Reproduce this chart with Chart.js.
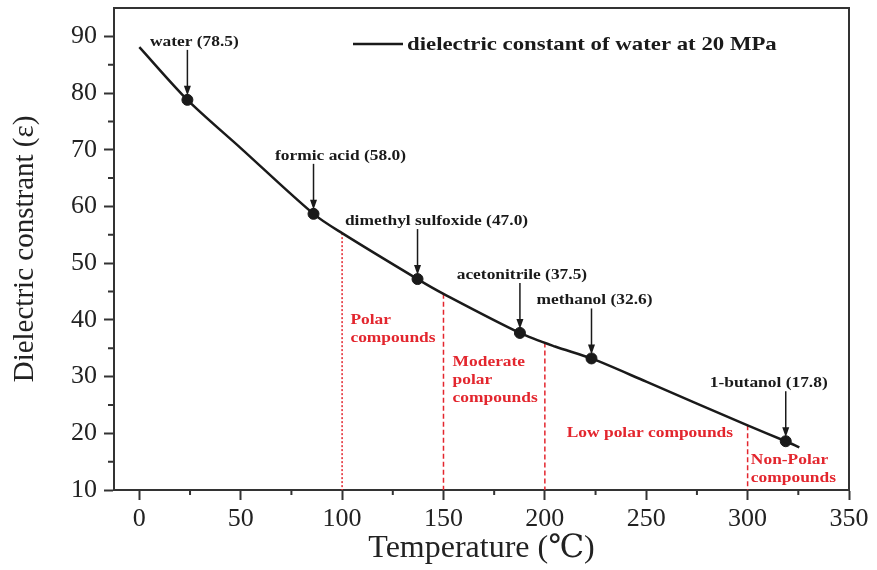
<!DOCTYPE html>
<html>
<head>
<meta charset="utf-8">
<script src="https://cdn.jsdelivr.net/npm/chart.js@4/dist/chart.umd.min.js"></script>
<style>
  html, body { margin: 0; padding: 0; background: #fff; }
  canvas { display: block; }
</style>
</head>
<body>
<canvas id="chart" width="877" height="570"></canvas>
<script>
// dielectric constant of water at 20 MPa
const curveTemp = [0, 23.7, 50, 85.9, 100, 137.2, 150, 187.7, 205, 223, 250, 300, 318.8, 325.5];
const curveEps = [88.1, 78.8, 70.3, 58.7, 55.3, 47.2, 44.6, 37.7, 35.3, 33.2, 29.1, 21.4, 18.6, 17.5];

// solvents marked on the curve
const compoundNames = ["water", "formic acid", "dimethyl sulfoxide", "acetonitrile", "methanol", "1-butanol"];
const compoundValues = [78.5, 58.0, 47.0, 37.5, 32.6, 17.8];
const compoundTemp = [23.7, 85.9, 137.2, 187.7, 223, 318.8];
const compoundEps = [78.8, 58.7, 47.2, 37.7, 33.2, 18.6];

// polarity zones (red dashed lines)
const boundaryTemp = [100, 150, 200, 300];
const boundaryTopEps = [55.3, 44.6, 36.0, 21.4];
const zoneLabels = [["Polar", "compounds"], ["Moderate", "polar", "compounds"], ["Low polar compounds"], ["Non-Polar", "compounds"]];

const xTicks = [0, 50, 100, 150, 200, 250, 300, 350];
const yTicks = [10, 20, 30, 40, 50, 60, 70, 80, 90];

// layout only (not data)
const labelShift = [7, 27, 19, 2, 3, -17];
const zoneAnchorTemp = [104.1, 154.5, 210.8, 301.6];
const zoneAnchorEps = [39.95, 32.6, 20.0, 15.2];

const RED = "#e3262e";
const INK = "#1a1a1a";
const SERIF = "'Liberation Serif', 'DejaVu Serif', serif";

function wideText(ctx, text, px, py, align) {
  ctx.save();
  ctx.translate(px, py);
  ctx.scale(1.2, 1);
  ctx.textAlign = align;
  ctx.fillText(text, 0, 0);
  ctx.restore();
}

function noPad(s) {
  s.paddingTop = 0;
  s.paddingBottom = 0;
  s.paddingLeft = 0;
  s.paddingRight = 0;
}

const overlay = {
  id: "overlay",
  afterDraw(chart) {
    const { ctx, chartArea: a, scales: { x, y } } = chart;
    ctx.save();

    // frame top + right, minor ticks
    ctx.strokeStyle = "#333";
    ctx.lineWidth = 2;
    ctx.beginPath();
    ctx.moveTo(a.left, a.top);
    ctx.lineTo(a.right, a.top);
    ctx.lineTo(a.right, a.bottom);
    for (let v = 15; v < 95; v += 10) {
      const py = y.getPixelForValue(v);
      ctx.moveTo(a.left - 6, py);
      ctx.lineTo(a.left, py);
    }
    for (let v = 25; v < 350; v += 50) {
      const px = x.getPixelForValue(v);
      ctx.moveTo(px, a.bottom);
      ctx.lineTo(px, a.bottom + 5);
    }
    ctx.stroke();

    // legend
    ctx.strokeStyle = INK;
    ctx.lineWidth = 2.5;
    ctx.beginPath();
    ctx.moveTo(a.left + 239, 44);
    ctx.lineTo(a.left + 289, 44);
    ctx.stroke();
    ctx.fillStyle = INK;
    ctx.textBaseline = "middle";
    ctx.font = "bold 19px " + SERIF;
    wideText(ctx, "dielectric constant of water at 20 MPa", a.left + 293, 45, "left");

    // compound labels with arrows
    ctx.font = "bold 14.5px " + SERIF;
    ctx.lineWidth = 1.5;
    compoundNames.forEach((name, i) => {
      const px = x.getPixelForValue(compoundTemp[i]);
      const py = y.getPixelForValue(compoundEps[i]);
      wideText(ctx, name + " (" + compoundValues[i].toFixed(1) + ")", px + labelShift[i], py - 58, "center");
      ctx.beginPath();
      ctx.moveTo(px, py - 50);
      ctx.lineTo(px, py - 10);
      ctx.stroke();
      ctx.beginPath();
      ctx.moveTo(px - 3.5, py - 14);
      ctx.lineTo(px + 3.5, py - 14);
      ctx.lineTo(px, py - 4);
      ctx.closePath();
      ctx.fill();
    });

    // zone labels
    ctx.fillStyle = RED;
    zoneLabels.forEach((lines, i) => {
      const px = x.getPixelForValue(zoneAnchorTemp[i]);
      const py = y.getPixelForValue(zoneAnchorEps[i]);
      lines.forEach((line, k) => wideText(ctx, line, px, py + k * 18, "left"));
    });

    ctx.restore();
  }
};

const datasets = [
  {
    label: "dielectric constant of water at 20 MPa",
    data: curveTemp.map((t, i) => ({ x: t, y: curveEps[i] })),
    showLine: true,
    borderColor: INK,
    borderWidth: 2.5,
    pointRadius: 0,
    tension: 0.3
  },
  {
    label: "solvents",
    data: compoundTemp.map((t, i) => ({ x: t, y: compoundEps[i] })),
    showLine: false,
    pointRadius: 5.5,
    backgroundColor: INK,
    borderColor: INK
  }
];
boundaryTemp.forEach((t, i) => {
  datasets.push({
    label: "boundary " + t,
    data: [{ x: t, y: boundaryTopEps[i] }, { x: t, y: 10 }],
    showLine: true,
    borderColor: RED,
    borderWidth: 1.5,
    borderDash: i === 0 ? [2, 2] : [5, 3],
    pointRadius: 0
  });
});

const tickFont = { family: SERIF, size: 26 };

new Chart(document.getElementById("chart"), {
  type: "scatter",
  data: { datasets: datasets },
  options: {
    responsive: false,
    animation: false,
    layout: { padding: { top: 8, right: 28, left: 0, bottom: 0 } },
    plugins: { legend: { display: false }, tooltip: { enabled: false } },
    scales: {
      x: {
        type: "linear",
        min: -12.5,
        max: 350,
        afterBuildTicks: (s) => { s.ticks = xTicks.map((v) => ({ value: v })); },
        afterFit: (s) => { s.height = 80; noPad(s); },
        ticks: { font: tickFont, color: "#222", padding: 4, maxRotation: 0 },
        grid: { drawOnChartArea: false, tickLength: 10, tickWidth: 2, tickColor: "#333" },
        border: { color: "#333", width: 2 },
        title: { display: true, text: "Temperature (℃)", color: "#222", font: { family: SERIF, size: 32 }, padding: { top: 0, bottom: 2 } }
      },
      y: {
        min: 10,
        max: 95,
        afterBuildTicks: (s) => { s.ticks = yTicks.map((v) => ({ value: v })); },
        afterFit: (s) => { s.width = 114; noPad(s); },
        ticks: { font: tickFont, color: "#222", padding: 7 },
        grid: { drawOnChartArea: false, tickLength: 10, tickWidth: 2, tickColor: "#333" },
        border: { color: "#333", width: 2 },
        title: { display: true, text: "Dielectric constrant (ε)", color: "#222", font: { family: SERIF, size: 29 }, padding: { top: 8, bottom: 0 } }
      }
    }
  },
  plugins: [overlay]
});
</script>
</body>
</html>
